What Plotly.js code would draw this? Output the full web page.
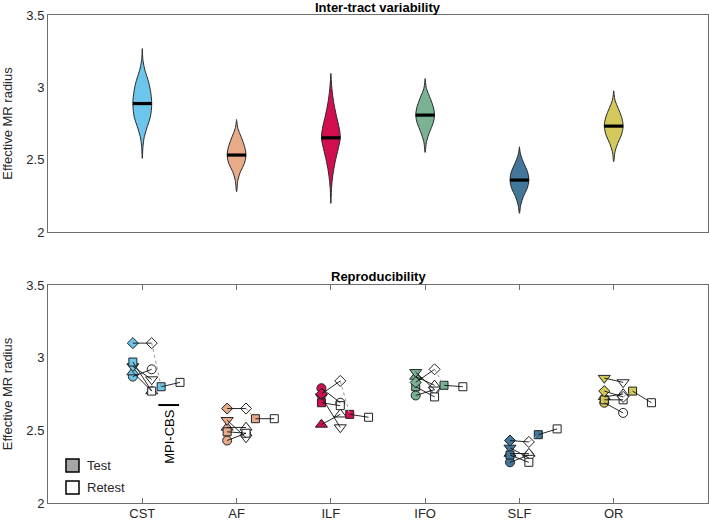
<!DOCTYPE html>
<html><head><meta charset="utf-8">
<script src="https://cdn.plot.ly/plotly-3.0.1.min.js"></script>
<style>html,body{margin:0;padding:0;background:#fff}#chart{width:709px;height:520px}</style>
</head><body><div id="chart"></div>
<script>
// ---------- categories & colours ----------
const tracts = ['CST', 'AF', 'ILF', 'IFO', 'SLF', 'OR'];
const tractColors = ['#6cc5ea', '#e8ab8a', '#d10f4f', '#79b394', '#42769a', '#d3c95c'];
const yTickVals = [2, 2.5, 3, 3.5];
const yTickText = ['2', '2.5', '3', '3.5'];

// ---------- top panel: violin density profiles (value level, relative width) ----------
const cstLevels = [2.509, 2.589, 2.658, 2.727, 2.796, 2.888, 2.980, 3.049, 3.118, 3.187, 3.268];
const cstWidths = [0, 0.07, 0.21, 0.52, 0.86, 1, 0.86, 0.62, 0.28, 0.07, 0];
const afLevels = [2.278, 2.359, 2.417, 2.474, 2.532, 2.589, 2.658, 2.716, 2.778];
const afWidths = [0, 0.14, 0.41, 0.83, 1, 0.86, 0.48, 0.14, 0];
const ilfLevels = [2.198, 2.302, 2.394, 2.486, 2.578, 2.651, 2.716, 2.808, 2.900, 2.992, 3.096];
const ilfWidths = [0, 0.07, 0.21, 0.46, 0.79, 1, 0.89, 0.57, 0.29, 0.11, 0];
const ifoLevels = [2.550, 2.624, 2.693, 2.750, 2.808, 2.865, 2.923, 2.992, 3.061];
const ifoWidths = [0, 0.14, 0.48, 0.83, 1, 0.86, 0.55, 0.14, 0];
const slfLevels = [2.129, 2.187, 2.244, 2.302, 2.359, 2.417, 2.474, 2.532, 2.589];
const slfWidths = [0, 0.14, 0.41, 0.83, 1, 0.86, 0.48, 0.14, 0];
const orLevels = [2.486, 2.555, 2.612, 2.670, 2.732, 2.796, 2.854, 2.911, 2.976];
const orWidths = [0, 0.14, 0.42, 0.81, 1, 0.83, 0.48, 0.14, 0];
const medians = [2.888, 2.532, 2.651, 2.808, 2.359, 2.732];

// ---------- bottom panel: test / retest per subject (one value per tract) ----------
const testDiamond    = [3.10, 2.65, 2.75, 2.83, 2.43, 2.77];
const retestDiamond  = [3.10, 2.65, 2.84, 2.92, 2.42, 2.73];
const testSquare     = [2.97, 2.49, 2.69, 2.80, 2.33, 2.71];
const retestSquare   = [2.77, 2.48, 2.67, 2.73, 2.28, 2.71];
const testTriDown    = [2.94, 2.57, 2.73, 2.90, 2.38, 2.86];
const retestTriDown  = [2.85, 2.45, 2.52, 2.78, 2.31, 2.83];
const testTriUp      = [2.90, 2.52, 2.54, 2.87, 2.34, 2.73];
const retestTriUp    = [2.77, 2.52, 2.61, 2.81, 2.34, 2.75];
const testCircle     = [2.87, 2.43, 2.79, 2.74, 2.28, 2.69];
const retestCircle   = [2.92, 2.48, 2.69, 2.78, 2.33, 2.62];
const mpiTest        = [2.80, 2.58, 2.61, 2.81, 2.47, 2.77];
const mpiRetest      = [2.83, 2.58, 2.59, 2.80, 2.51, 2.69];

// ---------- styling constants ----------
const FONT = 'Liberation Sans, Arial, Helvetica, sans-serif';
const TXT = '#262626';
const AXC = '#6e6e6e';
const HALF = 0.1;          // violin half-width in category units
const OFF_TEST = -0.1, OFF_RETEST = 0.1, OFF_MPI_T = 0.2, OFF_MPI_R = 0.4;

const traces = [];

// violins (top panel)
const profiles = [
  [cstLevels, cstWidths], [afLevels, afWidths], [ilfLevels, ilfWidths],
  [ifoLevels, ifoWidths], [slfLevels, slfWidths], [orLevels, orWidths]
];
function widthAt(levels, widths, v) {
  for (let k = 0; k < levels.length - 1; k++) {
    if (v >= levels[k] && v <= levels[k + 1]) {
      const t = (v - levels[k]) / (levels[k + 1] - levels[k]);
      return widths[k] + t * (widths[k + 1] - widths[k]);
    }
  }
  return 0;
}
profiles.forEach(([lv, wd], i) => {
  const c = i + 1;
  const xs = lv.map((l, k) => c + wd[k] * HALF)
    .concat(lv.slice().reverse().map((l, k) => c - wd[wd.length - 1 - k] * HALF));
  const ys = lv.concat(lv.slice().reverse());
  traces.push({
    type: 'scatter', mode: 'lines', x: xs, y: ys, xaxis: 'x', yaxis: 'y',
    fill: 'toself', fillcolor: tractColors[i],
    line: {color: '#2a2a2a', width: 1, shape: 'spline', smoothing: 0.9},
    hoverinfo: 'skip', showlegend: false
  });
  const w = widthAt(lv, wd, medians[i]) * HALF;
  traces.push({
    type: 'scatter', mode: 'lines', x: [c - w, c + w], y: [medians[i], medians[i]],
    xaxis: 'x', yaxis: 'y', line: {color: '#000', width: 3.2},
    hoverinfo: 'skip', showlegend: false
  });
});

// markers (bottom panel)
const subjects = [
  {sym: 'circle', size: 9, test: testCircle, retest: retestCircle},
  {sym: 'triangle-up', size: 10.5, test: testTriUp, retest: retestTriUp},
  {sym: 'triangle-down', size: 10.5, test: testTriDown, retest: retestTriDown},
  {sym: 'square', size: 8, test: testSquare, retest: retestSquare},
  {sym: 'diamond', size: 8.5, test: testDiamond, retest: retestDiamond}
];
const idx = tracts.map((_, i) => i + 1);
subjects.forEach(s => {
  traces.push({
    type: 'scatter', mode: 'markers', xaxis: 'x2', yaxis: 'y2',
    x: idx.map(c => c + OFF_TEST), y: s.test,
    marker: {symbol: s.sym, size: s.size, color: tractColors, line: {color: '#222', width: 1}},
    showlegend: false, hoverinfo: 'y'
  });
  traces.push({
    type: 'scatter', mode: 'markers', xaxis: 'x2', yaxis: 'y2',
    x: idx.map(c => c + OFF_RETEST), y: s.retest,
    marker: {symbol: s.sym, size: s.size, color: '#ffffff', line: {color: '#222', width: 1}},
    showlegend: false, hoverinfo: 'y'
  });
});
traces.push({
  type: 'scatter', mode: 'markers', xaxis: 'x2', yaxis: 'y2',
  x: idx.map(c => c + OFF_MPI_T), y: mpiTest,
  marker: {symbol: 'square', size: 8, color: tractColors, line: {color: '#222', width: 1}},
  showlegend: false, hoverinfo: 'y'
});
traces.push({
  type: 'scatter', mode: 'markers', xaxis: 'x2', yaxis: 'y2',
  x: idx.map(c => c + OFF_MPI_R), y: mpiRetest,
  marker: {symbol: 'square', size: 8, color: '#ffffff', line: {color: '#222', width: 1}},
  showlegend: false, hoverinfo: 'y'
});

// connecting lines (drawn on top)
const lx = [], ly = [];
idx.forEach((c, i) => {
  subjects.forEach(s => {
    lx.push(c + OFF_TEST, c + OFF_RETEST, null);
    ly.push(s.test[i], s.retest[i], null);
  });
  lx.push(c + OFF_MPI_T, c + OFF_MPI_R, null);
  ly.push(mpiTest[i], mpiRetest[i], null);
});
traces.push({
  type: 'scatter', mode: 'lines', xaxis: 'x2', yaxis: 'y2', x: lx, y: ly,
  line: {color: '#111', width: 0.9}, hoverinfo: 'skip', showlegend: false
});
const dx = [], dy = [];
idx.forEach((c, i) => {
  dx.push(c + OFF_RETEST, c + OFF_MPI_T, null);
  dy.push(retestDiamond[i], mpiTest[i], null);
});
traces.push({
  type: 'scatter', mode: 'lines', xaxis: 'x2', yaxis: 'y2', x: dx, y: dy,
  line: {color: '#9a9a9a', width: 1, dash: 'dot'}, hoverinfo: 'skip', showlegend: false
});

const baseY = {
  range: [2, 3.5], tickvals: yTickVals, ticktext: yTickText, ticks: '',
  showline: true, linecolor: AXC, linewidth: 1, mirror: true, zeroline: false, showgrid: false,
  tickfont: {family: FONT, size: 13, color: TXT},
  title: {text: 'Effective MR radius', font: {family: FONT, size: 13, color: TXT}, standoff: 10}
};
const rightY = {
  range: [2, 3.5], tickvals: [2.5, 3], ticks: 'inside', ticklen: 5, tickcolor: AXC,
  showticklabels: false, side: 'right', showgrid: false, zeroline: false, showline: false
};

const layout = {
  width: 709, height: 520,
  margin: {l: 48, r: 1, t: 15, b: 17},
  paper_bgcolor: '#fff', plot_bgcolor: '#fff',
  showlegend: false,
  xaxis: {domain: [0, 1], anchor: 'y', range: [0, 7], showticklabels: false, ticks: '',
    showline: true, linecolor: AXC, linewidth: 1, mirror: true, zeroline: false, showgrid: false},
  yaxis: Object.assign({}, baseY, {domain: [0.5553, 1], anchor: 'x'}),
  xaxis2: {domain: [0, 1], anchor: 'y2', range: [0, 7], tickvals: idx, ticktext: tracts,
    ticks: 'inside', ticklen: 5, tickcolor: AXC, ticklabelstandoff: -2,
    tickfont: {family: FONT, size: 13, color: TXT},
    showline: true, linecolor: AXC, linewidth: 1, mirror: 'ticks', zeroline: false, showgrid: false},
  yaxis2: Object.assign({}, baseY, {domain: [0, 0.4467], anchor: 'x2'}),
  yaxis3: Object.assign({}, rightY, {overlaying: 'y', anchor: 'x'}),
  yaxis4: Object.assign({}, rightY, {overlaying: 'y2', anchor: 'x2'}),
  annotations: [
    {text: '<b>Inter-tract variability</b>', xref: 'paper', yref: 'paper', x: 0.5, y: 1,
      xanchor: 'center', yanchor: 'bottom', showarrow: false, borderpad: 0, borderwidth: 0,
      font: {family: FONT, size: 13, color: '#000'}},
    {text: '<b>Reproducibility</b>', xref: 'paper', yref: 'paper', x: 0.5, y: 0.4467,
      xanchor: 'center', yanchor: 'bottom', showarrow: false, borderpad: 0, borderwidth: 0, yshift: 1,
      font: {family: FONT, size: 13, color: '#000'}},
    {text: 'MPI-CBS', xref: 'x2', yref: 'y2', x: 1.29, y: 2.46, textangle: -90, showarrow: false,
      font: {family: FONT, size: 13, color: '#000'}},
    {text: 'Test', xref: 'paper', yref: 'paper', x: (85 - 48) / 660, y: (503 - 465) / 488,
      xanchor: 'left', yanchor: 'middle', showarrow: false, font: {family: FONT, size: 13, color: TXT}},
    {text: 'Retest', xref: 'paper', yref: 'paper', x: (85 - 48) / 660, y: (503 - 487) / 488,
      xanchor: 'left', yanchor: 'middle', showarrow: false, font: {family: FONT, size: 13, color: TXT}}
  ],
  shapes: [
    {type: 'line', xref: 'x2', yref: 'y2', x0: 1.17, x1: 1.39, y0: 2.674, y1: 2.674,
      line: {color: '#000', width: 2}},
    {type: 'rect', xref: 'paper', yref: 'paper', x0: (66 - 48) / 660, x1: (79 - 48) / 660,
      y0: (503 - 472) / 488, y1: (503 - 459) / 488, fillcolor: '#a6a6a6', line: {color: '#000', width: 1.5}},
    {type: 'rect', xref: 'paper', yref: 'paper', x0: (66 - 48) / 660, x1: (79 - 48) / 660,
      y0: (503 - 494) / 488, y1: (503 - 481) / 488, fillcolor: '#ffffff', line: {color: '#000', width: 1.5}}
  ]
};

Plotly.newPlot('chart', traces, layout, {staticPlot: true, displayModeBar: false});
</script>
</body></html>
